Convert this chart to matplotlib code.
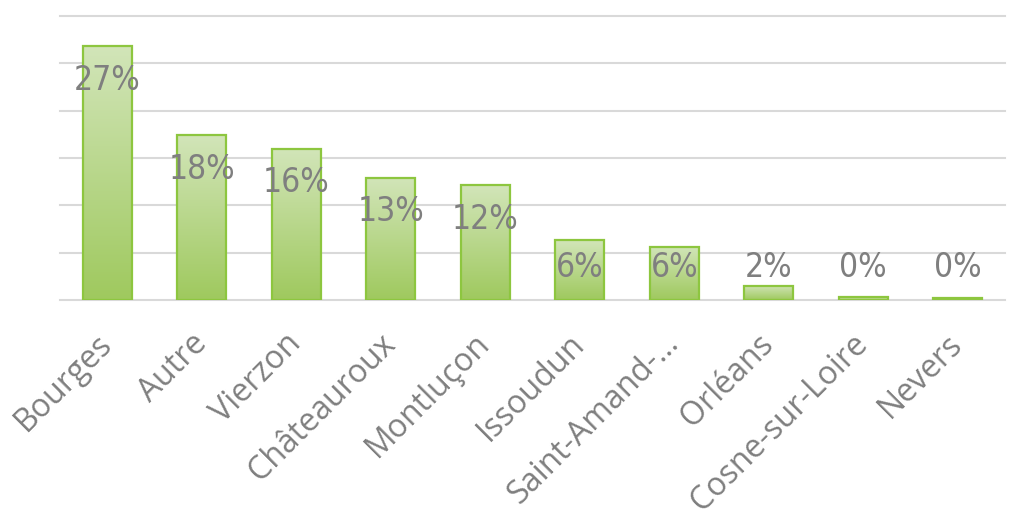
import numpy as np
import matplotlib
matplotlib.use("Agg")
import matplotlib.pyplot as plt
from matplotlib.colors import LinearSegmentedColormap

# données (en %)
villes = ["Bourges", "Autre", "Vierzon", "Châteauroux", "Montluçon",
          "Issoudun", "Saint-Amand-…", "Orléans", "Cosne-sur-Loire", "Nevers"]
parts = [26.8, 17.4, 16.0, 12.9, 12.1, 6.3, 5.6, 1.5, 0.3, 0.2]
etiquettes = ["27%", "18%", "16%", "13%", "12%", "6%", "6%", "2%", "0%", "0%"]

gris = "#7f7f7f"
degrade = LinearSegmentedColormap.from_list("vert", ["#9fc95e", "#d2e5b9"])

fig = plt.figure(figsize=(10.1, 5.15), dpi=100)
ax = fig.add_axes([0.0594, 0.4175, 0.9356, 0.5515])

x = np.arange(len(villes))
barres = ax.bar(x, parts, width=0.52, facecolor="none", edgecolor="#8dc63f",
                linewidth=1.6, zorder=3)

# dégradé vertical dans chaque barre
grad = np.linspace(0, 1, 256).reshape(-1, 1)
for b in barres:
    x0, y0 = b.get_x(), b.get_y()
    w, h = b.get_width(), b.get_height()
    im = ax.imshow(grad, cmap=degrade, origin="lower", aspect="auto",
                   extent=(x0, x0 + w, y0, y0 + h), zorder=2)
    im.set_clip_path(b)

# étiquettes de valeurs
for xi, v, t in zip(x, parts, etiquettes):
    y = max(v - 3.6, 3.4)
    ax.text(xi, y, t, ha="center", va="center", color=gris, fontsize=24,
            family="DejaVu Sans", fontstretch="condensed", zorder=4)

ax.set_xlim(-0.5, len(villes) - 0.5)
ax.set_ylim(0, 30)
ax.set_yticks(np.arange(0, 31, 5))
ax.set_yticklabels([])
ax.yaxis.grid(True, color="#d9d9d9", linewidth=1.5)
for gl in ax.get_ygridlines():
    gl.set_clip_on(False)
ax.set_axisbelow(True)
ax.tick_params(axis="y", length=0)
ax.tick_params(axis="x", length=0, pad=28)
for s in ax.spines.values():
    s.set_visible(False)

ax.set_xticks(x)
ax.set_xticklabels(villes, rotation=45, ha="right", va="center",
                   rotation_mode="anchor", color=gris, fontsize=23,
                   family=["Open Sans", "DejaVu Sans"])

fig.savefig("out.png", dpi=100)
